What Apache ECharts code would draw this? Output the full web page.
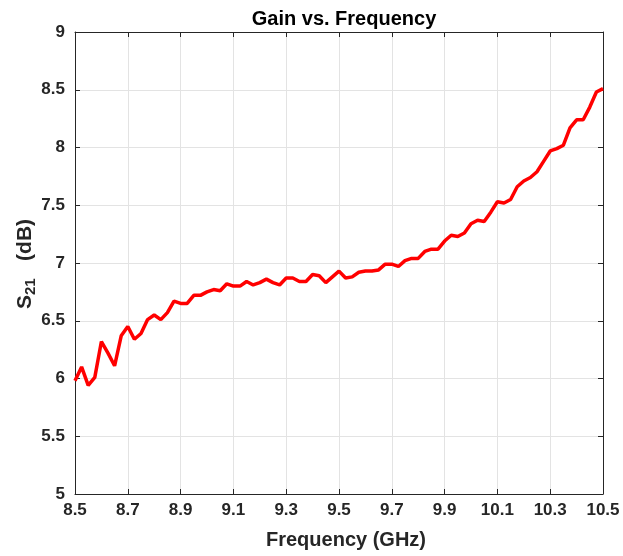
<!DOCTYPE html>
<html lang="en" style="height: 100%">
<head>
  <meta charset="utf-8">
</head>
<body style="height: 100%; margin: 0; background: #fff">
  <div id="container" style="width: 623px; height: 556px"></div>
  <script type="text/javascript" src="https://cdn.jsdelivr.net/npm/echarts@6/dist/echarts.min.js"></script>
  <script type="text/javascript">
// frequency points (GHz)
var freq = [
  8.5, 8.525, 8.55, 8.575, 8.6, 8.625, 8.65, 8.675, 8.7, 8.725,
  8.75, 8.775, 8.8, 8.825, 8.85, 8.875, 8.9, 8.925, 8.95, 8.975,
  9.0, 9.025, 9.05, 9.075, 9.1, 9.125, 9.15, 9.175, 9.2, 9.225,
  9.25, 9.275, 9.3, 9.325, 9.35, 9.375, 9.4, 9.425, 9.45, 9.475,
  9.5, 9.525, 9.55, 9.575, 9.6, 9.625, 9.65, 9.675, 9.7, 9.725,
  9.75, 9.775, 9.8, 9.825, 9.85, 9.875, 9.9, 9.925, 9.95, 9.975,
  10.0, 10.025, 10.05, 10.075, 10.1, 10.125, 10.15, 10.175, 10.2, 10.225,
  10.25, 10.275, 10.3, 10.325, 10.35, 10.375, 10.4, 10.425, 10.45, 10.475,
  10.5
];
// S21 gain (dB)
var gain = [
  5.98, 6.10, 5.94, 6.01, 6.32, 6.22, 6.11, 6.37, 6.45, 6.34,
  6.39, 6.51, 6.55, 6.51, 6.57, 6.67, 6.65, 6.65, 6.72, 6.72,
  6.75, 6.77, 6.76, 6.82, 6.80, 6.80, 6.84, 6.81, 6.83, 6.86,
  6.83, 6.81, 6.87, 6.87, 6.84, 6.84, 6.90, 6.89, 6.83, 6.88,
  6.93, 6.87, 6.88, 6.92, 6.93, 6.93, 6.94, 6.99, 6.99, 6.97,
  7.02, 7.04, 7.04, 7.10, 7.12, 7.12, 7.19, 7.24, 7.23, 7.26,
  7.34, 7.37, 7.36, 7.44, 7.53, 7.52, 7.55, 7.66, 7.71, 7.74,
  7.79, 7.88, 7.97, 7.99, 8.02, 8.17, 8.24, 8.24, 8.35, 8.48,
  8.51
];

var dom = document.getElementById('container');
var myChart = echarts.init(dom, null, { renderer: 'canvas' });

var font = 'Liberation Sans, Arial, sans-serif';
var axisColor = '#262626';

var option = {
  animation: false,
  backgroundColor: '#fff',
  title: {
    text: 'Gain vs. Frequency',
    left: 339,
    textAlign: 'center',
    top: 4,
    textStyle: { fontFamily: font, fontSize: 20, fontWeight: 'bold', color: '#000' }
  },
  // y axis title, drawn as rotated text so the subscript can be placed freely
  graphic: [
    {
      type: 'text',
      x: 25,
      y: 264,
      rotation: Math.PI / 2,
      style: {
        text: 'S{sub|21}   (dB)',
        font: 'bold 21px Liberation Sans, Arial, sans-serif',
        fill: axisColor,
        align: 'center',
        verticalAlign: 'middle',
        rich: {
          sub: { fontFamily: font, fontSize: 15, fontWeight: 'bold', fill: axisColor, verticalAlign: 'bottom', padding: [11, 0, 0, 0] }
        }
      }
    }
  ],
  grid: { left: 75, right: 20, top: 32, bottom: 62 },
  xAxis: [
    {
      type: 'value',
      min: 8.5,
      max: 10.5,
      interval: 0.2,
      name: 'Frequency (GHz)',
      nameLocation: 'middle',
      nameGap: 36,
      nameTextStyle: { fontFamily: font, fontSize: 20, fontWeight: 'bold', color: axisColor, padding: [0, 0, 0, 14] },
      axisLine: { lineStyle: { color: axisColor, width: 1 } },
      axisTick: { inside: true, length: 5, lineStyle: { color: axisColor } },
      axisLabel: {
        fontFamily: font, fontSize: 17, fontWeight: 'bold', color: axisColor, margin: 8,
        formatter: function (v) { return v.toFixed(1); }
      },
      splitLine: { show: true, lineStyle: { color: '#e3e3e3', width: 1 } }
    },
    {
      type: 'value',
      position: 'top',
      min: 8.5,
      max: 10.5,
      interval: 0.2,
      axisLine: { lineStyle: { color: axisColor, width: 1 } },
      axisTick: { inside: true, length: 5, lineStyle: { color: axisColor } },
      axisLabel: { show: false },
      splitLine: { show: false }
    }
  ],
  yAxis: [
    {
      type: 'value',
      min: 5,
      max: 9,
      interval: 0.5,
      axisLine: { lineStyle: { color: axisColor, width: 1 } },
      axisTick: { inside: true, length: 5, lineStyle: { color: axisColor } },
      axisLabel: { fontFamily: font, fontSize: 17, fontWeight: 'bold', color: axisColor, margin: 10 },
      splitLine: { show: true, lineStyle: { color: '#e3e3e3', width: 1 } }
    },
    {
      type: 'value',
      position: 'right',
      min: 5,
      max: 9,
      interval: 0.5,
      axisLine: { show: true, lineStyle: { color: axisColor, width: 1 } },
      axisTick: { show: true, inside: true, length: 5, lineStyle: { color: axisColor } },
      axisLabel: { show: false },
      splitLine: { show: false }
    }
  ],
  series: [
    {
      type: 'line',
      data: freq.map(function (f, i) { return [f, gain[i]]; }),
      showSymbol: false,
      symbol: 'none',
      lineStyle: { color: '#ff0000', width: 3.5 },
      itemStyle: { color: '#ff0000' }
    }
  ]
};

myChart.setOption(option);
window.addEventListener('resize', myChart.resize);
  </script>
</body>
</html>
